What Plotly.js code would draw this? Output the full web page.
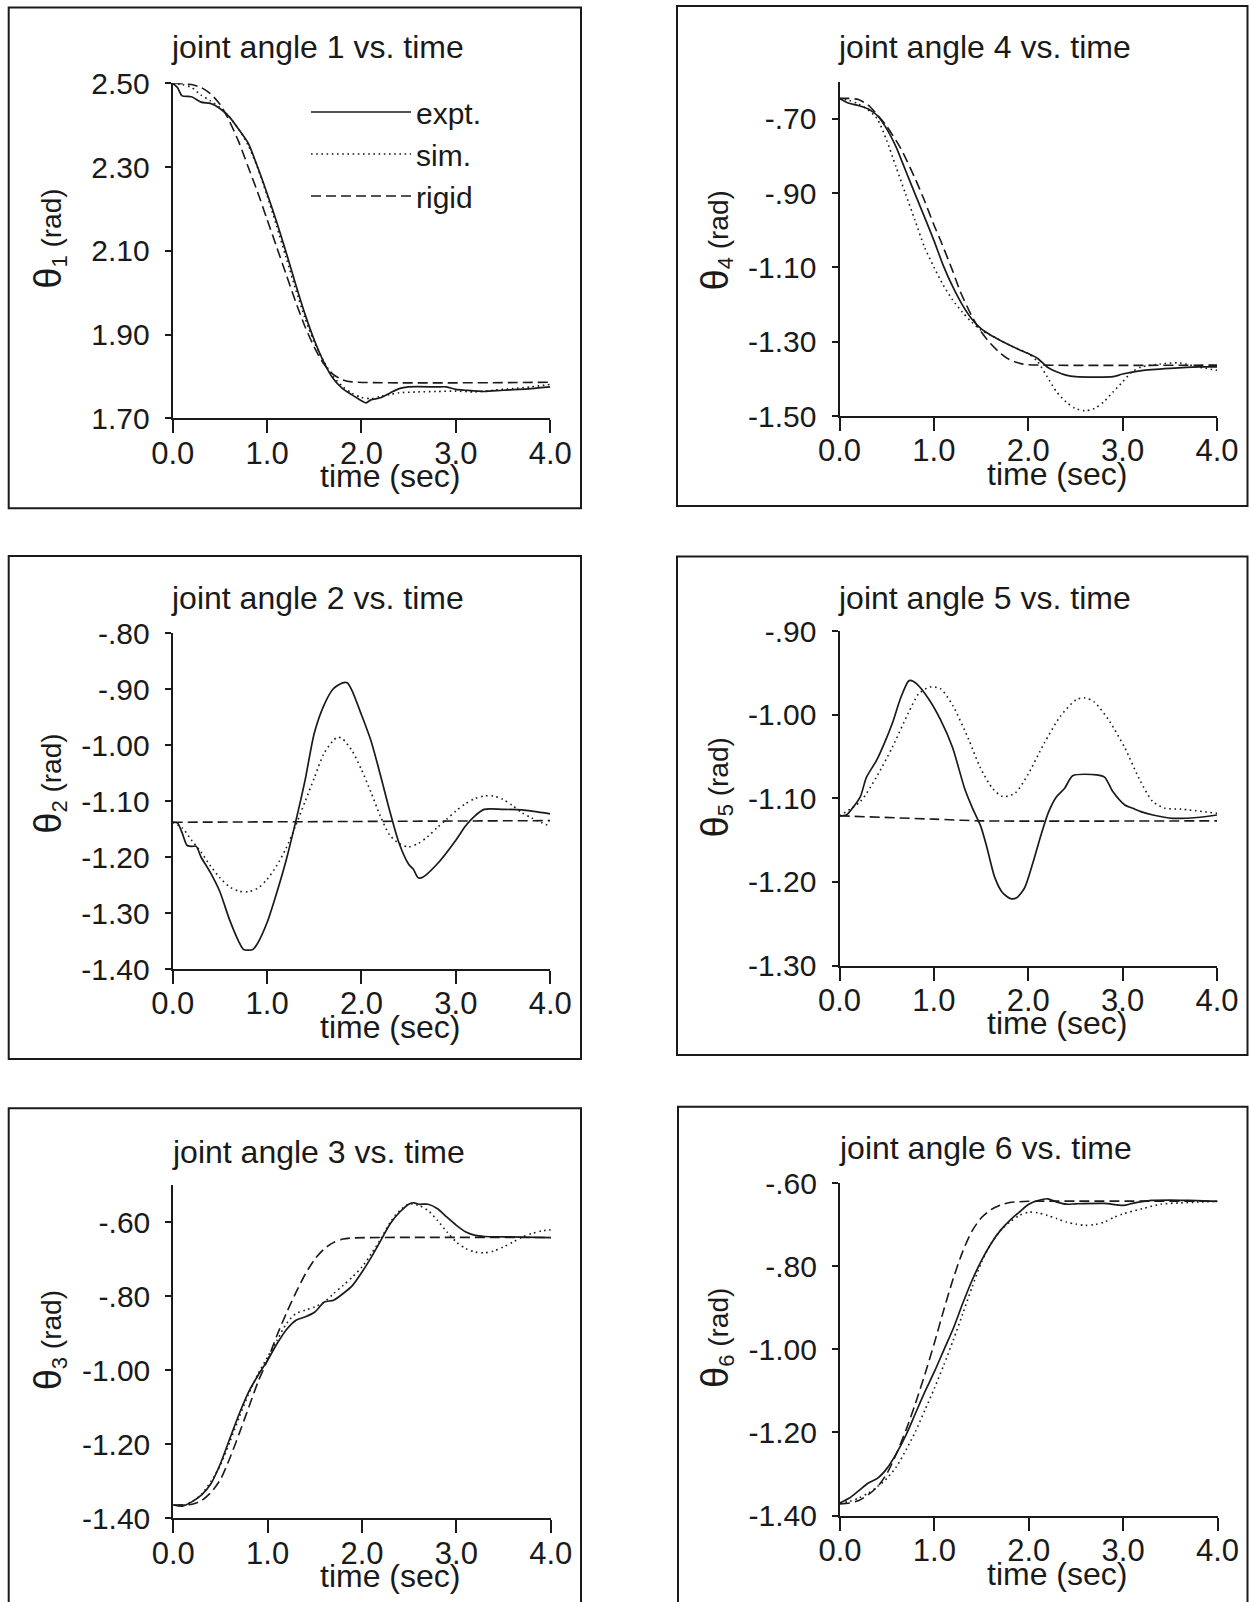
<!DOCTYPE html>
<html>
<head>
<meta charset="utf-8">
<script src="https://cdn.plot.ly/plotly-3.0.1.min.js"></script>
<style>
  html, body { margin: 0; padding: 0; background: #fff; }
  #chart { width: 1249px; height: 1602px; }
</style>
</head>
<body>
<div id="chart"></div>
<script>
// ---------------- DATA ----------------
const xTickVals = [0, 1, 2, 3, 4];
const xTickText = ["0.0", "1.0", "2.0", "3.0", "4.0"];
const seriesNames = ["expt.", "sim.", "rigid"];
const panelTitles = ["joint angle 1 vs. time", "joint angle 2 vs. time", "joint angle 3 vs. time",
                     "joint angle 4 vs. time", "joint angle 5 vs. time", "joint angle 6 vs. time"];
const xTitle = "time (sec)";

// joint 1
const y1TickVals = [2.50, 2.30, 2.10, 1.90, 1.70];
const y1TickText = ["2.50", "2.30", "2.10", "1.90", "1.70"];
const t1e = [0,0.05,0.1,0.2,0.3,0.4,0.5,0.6,0.7,0.8,0.9,1.0,1.1,1.2,1.3,1.4,1.5,1.6,1.7,1.8,1.9,2.0,2.05,2.1,2.2,2.3,2.4,2.5,2.8,2.9,3.0,3.1,3.3,3.5,3.8,4.0];
const th1e = [2.50,2.49,2.47,2.468,2.455,2.452,2.44,2.42,2.39,2.357,2.30,2.237,2.17,2.098,2.022,1.95,1.887,1.835,1.795,1.771,1.756,1.742,1.737,1.744,1.749,1.76,1.771,1.775,1.775,1.775,1.769,1.767,1.764,1.767,1.771,1.775];
const t1s = [0,0.1,0.2,0.3,0.4,0.5,0.6,0.7,0.8,0.9,1.0,1.1,1.2,1.3,1.4,1.5,1.6,1.7,1.8,1.9,2.0,2.1,2.2,2.3,2.4,2.6,2.8,3.0,3.2,3.4,3.6,3.8,4.0];
const th1s = [2.50,2.497,2.49,2.472,2.458,2.442,2.42,2.39,2.352,2.298,2.232,2.16,2.085,2.01,1.94,1.882,1.836,1.80,1.776,1.76,1.75,1.747,1.752,1.757,1.761,1.763,1.764,1.765,1.763,1.767,1.771,1.775,1.781];
const t1r = [0,0.2,0.3,0.4,0.5,0.6,0.7,0.8,0.9,1.0,1.1,1.2,1.3,1.4,1.5,1.6,1.7,1.8,1.9,4.0];
const th1r = [2.50,2.497,2.49,2.475,2.45,2.41,2.36,2.30,2.24,2.175,2.11,2.045,1.98,1.92,1.87,1.83,1.805,1.792,1.787,1.786];

// joint 2
const y2TickVals = [-0.80, -0.90, -1.00, -1.10, -1.20, -1.30, -1.40];
const y2TickText = ["-.80", "-.90", "-1.00", "-1.10", "-1.20", "-1.30", "-1.40"];
const t2e = [0,0.05,0.1,0.15,0.2,0.25,0.3,0.4,0.5,0.6,0.7,0.75,0.85,0.9,1.0,1.1,1.2,1.3,1.4,1.5,1.6,1.7,1.8,1.85,1.9,2.0,2.1,2.2,2.3,2.4,2.5,2.55,2.6,2.65,2.8,3.0,3.1,3.2,3.3,3.5,3.7,4.0];
const th2e = [-1.138,-1.139,-1.157,-1.179,-1.181,-1.181,-1.20,-1.228,-1.262,-1.311,-1.351,-1.365,-1.365,-1.354,-1.317,-1.265,-1.207,-1.139,-1.065,-0.979,-0.93,-0.90,-0.889,-0.889,-0.903,-0.946,-0.992,-1.053,-1.118,-1.176,-1.213,-1.222,-1.237,-1.236,-1.213,-1.17,-1.145,-1.127,-1.115,-1.115,-1.116,-1.123];
const t2s = [0,0.1,0.2,0.3,0.4,0.5,0.6,0.7,0.8,0.9,1.0,1.1,1.2,1.3,1.4,1.5,1.6,1.7,1.75,1.8,1.9,2.0,2.1,2.2,2.3,2.4,2.5,2.6,2.7,2.8,2.9,3.0,3.1,3.2,3.3,3.4,3.5,3.6,3.7,3.8,3.9,4.0];
const th2s = [-1.138,-1.148,-1.17,-1.191,-1.216,-1.237,-1.253,-1.261,-1.262,-1.256,-1.24,-1.216,-1.185,-1.145,-1.102,-1.059,-1.016,-0.992,-0.986,-0.989,-1.01,-1.044,-1.084,-1.127,-1.161,-1.176,-1.182,-1.176,-1.164,-1.148,-1.133,-1.118,-1.105,-1.096,-1.091,-1.091,-1.097,-1.108,-1.121,-1.13,-1.138,-1.145];
const t2r = [0, 4.0];
const th2r = [-1.138, -1.135];

// joint 3
const y3TickVals = [-0.60, -0.80, -1.00, -1.20, -1.40];
const y3TickText = ["-.60", "-.80", "-1.00", "-1.20", "-1.40"];
const t3e = [0,0.1,0.2,0.3,0.4,0.5,0.6,0.7,0.8,0.9,1.0,1.1,1.2,1.3,1.4,1.5,1.6,1.7,1.8,1.9,2.0,2.1,2.2,2.3,2.4,2.5,2.55,2.6,2.7,2.8,2.9,3.0,3.1,3.2,3.3,3.5,4.0];
const th3e = [-1.364,-1.367,-1.355,-1.337,-1.306,-1.252,-1.184,-1.117,-1.058,-1.013,-0.973,-0.928,-0.89,-0.865,-0.856,-0.843,-0.816,-0.811,-0.793,-0.771,-0.735,-0.694,-0.649,-0.604,-0.573,-0.551,-0.548,-0.552,-0.552,-0.564,-0.587,-0.609,-0.627,-0.636,-0.639,-0.64,-0.642];
const t3s = [0,0.1,0.2,0.3,0.4,0.5,0.6,0.7,0.8,0.9,1.0,1.1,1.2,1.3,1.4,1.5,1.6,1.7,1.8,1.9,2.0,2.1,2.2,2.3,2.4,2.5,2.6,2.7,2.8,2.9,3.0,3.1,3.2,3.3,3.4,3.5,3.6,3.7,3.8,3.9,4.0];
const th3s = [-1.364,-1.365,-1.355,-1.335,-1.30,-1.256,-1.193,-1.126,-1.063,-1.009,-0.964,-0.919,-0.874,-0.847,-0.838,-0.829,-0.816,-0.793,-0.771,-0.748,-0.721,-0.685,-0.645,-0.60,-0.569,-0.551,-0.555,-0.569,-0.596,-0.627,-0.654,-0.672,-0.681,-0.683,-0.678,-0.667,-0.654,-0.64,-0.631,-0.624,-0.621];
const t3r = [0,0.2,0.3,0.4,0.5,0.6,0.7,0.8,0.9,1.0,1.1,1.2,1.3,1.4,1.5,1.6,1.7,1.8,1.9,4.0];
const th3r = [-1.364,-1.362,-1.352,-1.33,-1.295,-1.237,-1.17,-1.10,-1.03,-0.972,-0.905,-0.845,-0.79,-0.74,-0.70,-0.672,-0.655,-0.646,-0.643,-0.642];

// joint 4
const y4TickVals = [-0.70, -0.90, -1.10, -1.30, -1.50];
const y4TickText = ["-.70", "-.90", "-1.10", "-1.30", "-1.50"];
const t4e = [0,0.1,0.2,0.3,0.4,0.5,0.6,0.7,0.8,0.9,1.0,1.1,1.2,1.3,1.4,1.5,1.6,1.7,1.8,1.9,2.0,2.1,2.2,2.3,2.4,2.5,2.9,3.0,3.2,3.5,3.8,4.0];
const th4e = [-0.645,-0.658,-0.664,-0.673,-0.691,-0.727,-0.776,-0.839,-0.902,-0.964,-1.027,-1.095,-1.152,-1.20,-1.238,-1.265,-1.282,-1.296,-1.309,-1.321,-1.332,-1.345,-1.368,-1.381,-1.39,-1.394,-1.394,-1.387,-1.378,-1.372,-1.368,-1.368];
const t4s = [0,0.1,0.2,0.3,0.4,0.5,0.6,0.7,0.8,0.9,1.0,1.1,1.2,1.3,1.4,1.5,1.6,1.8,2.0,2.1,2.2,2.3,2.4,2.5,2.6,2.7,2.8,2.9,3.0,3.1,3.2,3.4,3.6,3.8,4.0];
const th4s = [-0.645,-0.65,-0.66,-0.675,-0.70,-0.758,-0.83,-0.902,-0.973,-1.045,-1.099,-1.148,-1.188,-1.22,-1.247,-1.269,-1.282,-1.309,-1.332,-1.354,-1.394,-1.435,-1.462,-1.48,-1.486,-1.48,-1.462,-1.435,-1.408,-1.381,-1.368,-1.36,-1.357,-1.368,-1.377];
const t4r = [0,0.1,0.2,0.3,0.39,0.5,0.65,0.8,0.9,1.0,1.07,1.2,1.28,1.4,1.49,1.6,1.71,1.8,1.92,2.0,4.0];
const th4r = [-0.645,-0.645,-0.648,-0.662,-0.686,-0.72,-0.78,-0.86,-0.92,-0.985,-1.027,-1.11,-1.165,-1.23,-1.269,-1.305,-1.332,-1.348,-1.359,-1.362,-1.363];

// joint 5
const y5TickVals = [-0.90, -1.00, -1.10, -1.20, -1.30];
const y5TickText = ["-.90", "-1.00", "-1.10", "-1.20", "-1.30"];
const t5e = [0,0.072,0.136,0.221,0.285,0.391,0.476,0.561,0.645,0.73,0.752,0.815,0.943,1.07,1.197,1.325,1.41,1.495,1.558,1.643,1.728,1.813,1.877,1.962,2.047,2.132,2.217,2.301,2.386,2.471,2.726,2.811,2.896,3.023,3.108,3.193,3.321,3.533,3.788,4.0];
const th5e = [-1.121,-1.120,-1.112,-1.098,-1.075,-1.055,-1.034,-1.010,-0.981,-0.96,-0.959,-0.963,-0.981,-1.006,-1.039,-1.088,-1.112,-1.133,-1.157,-1.194,-1.213,-1.22,-1.219,-1.207,-1.178,-1.145,-1.116,-1.098,-1.088,-1.073,-1.072,-1.075,-1.092,-1.108,-1.112,-1.116,-1.12,-1.124,-1.123,-1.12];
const t5s = [0,0.22,0.39,0.56,0.73,0.84,0.96,1.07,1.2,1.37,1.49,1.62,1.73,1.86,2.0,2.17,2.34,2.51,2.6,2.7,2.85,3.02,3.19,3.32,3.45,3.62,4.0];
const th5s = [-1.121,-1.104,-1.075,-1.039,-0.998,-0.975,-0.967,-0.969,-0.989,-1.03,-1.063,-1.088,-1.098,-1.094,-1.071,-1.034,-1.002,-0.982,-0.98,-0.985,-1.006,-1.039,-1.08,-1.104,-1.112,-1.113,-1.118];
const t5r = [0, 1.0, 1.5, 4.0];
const th5r = [-1.121, -1.125, -1.127, -1.127];

// joint 6
const y6TickVals = [-0.60, -0.80, -1.00, -1.20, -1.40];
const y6TickText = ["-.60", "-.80", "-1.00", "-1.20", "-1.40"];
const t6e = [0,0.1,0.2,0.3,0.4,0.5,0.6,0.7,0.8,0.9,1.0,1.1,1.2,1.3,1.4,1.5,1.6,1.7,1.8,1.9,2.0,2.1,2.2,2.3,2.4,2.5,2.8,3.0,3.1,3.3,3.5,3.7,4.0];
const th6e = [-1.37,-1.358,-1.34,-1.322,-1.31,-1.286,-1.25,-1.206,-1.154,-1.102,-1.054,-1.002,-0.95,-0.89,-0.834,-0.786,-0.746,-0.714,-0.69,-0.67,-0.651,-0.642,-0.638,-0.646,-0.651,-0.65,-0.649,-0.654,-0.649,-0.642,-0.641,-0.642,-0.644];
const t6s = [0,0.1,0.2,0.3,0.4,0.5,0.6,0.7,0.8,0.9,1.0,1.1,1.2,1.3,1.4,1.5,1.6,1.7,1.8,1.9,2.0,2.1,2.2,2.3,2.4,2.5,2.6,2.7,2.8,2.9,3.0,3.2,3.4,3.6,3.8,4.0];
const th6s = [-1.37,-1.366,-1.358,-1.346,-1.33,-1.31,-1.282,-1.242,-1.198,-1.146,-1.094,-1.038,-0.978,-0.915,-0.85,-0.79,-0.746,-0.714,-0.694,-0.678,-0.67,-0.672,-0.678,-0.686,-0.694,-0.699,-0.702,-0.70,-0.694,-0.683,-0.674,-0.662,-0.651,-0.648,-0.646,-0.644];
const t6r = [0,0.1,0.2,0.3,0.4,0.5,0.6,0.7,0.8,0.9,1.0,1.1,1.2,1.3,1.4,1.5,1.6,1.7,1.8,1.9,2.0,4.0];
const th6r = [-1.372,-1.37,-1.364,-1.35,-1.33,-1.298,-1.25,-1.194,-1.13,-1.06,-0.985,-0.905,-0.83,-0.765,-0.715,-0.683,-0.664,-0.653,-0.647,-0.645,-0.644,-0.644];

// ---------------- LAYOUT HELPERS ----------------
const W = 1249, H = 1602;
const FONT = "Liberation Sans, Arial, Helvetica, sans-serif";
const INK = "#1a1a1a";
const px = v => v / W;
const py = v => 1 - v / H;

const panels = [
  {id: 1, ax: "",  x0: 172.7, x1: 550.2, yt: 83.3,  yb: 418.3, range: [1.70, 2.50], tv: y1TickVals, tt: y1TickText,
   box: [8.7, 7.5, 581, 508.3], ty: 46.7, ytc: 239,
   data: [[t1e, th1e], [t1s, th1s], [t1r, th1r]]},
  {id: 2, ax: "2", x0: 172.7, x1: 550.2, yt: 633,   yb: 969,   range: [-1.40, -0.80], tv: y2TickVals, tt: y2TickText,
   box: [8.7, 556, 581, 1059], ty: 597.5, ytc: 784,
   data: [[t2e, th2e], [t2s, th2s], [t2r, th2r]]},
  {id: 3, ax: "3", x0: 173.3, x1: 550.8, yt: 1185,  yb: 1518.3, range: [-1.40, -0.50], tv: y3TickVals, tt: y3TickText,
   box: [8.7, 1108.3, 581, 1620], ty: 1151.7, ytc: 1340,
   data: [[t3e, th3e], [t3s, th3s], [t3r, th3r]]},
  {id: 4, ax: "4", x0: 839.5, x1: 1217, yt: 81.7,  yb: 416,   range: [-1.50, -0.60], tv: y4TickVals, tt: y4TickText,
   box: [677, 6, 1247.5, 506], ty: 46.7, ytc: 241,
   data: [[t4e, th4e], [t4s, th4s], [t4r, th4r]]},
  {id: 5, ax: "5", x0: 839.5, x1: 1217, yt: 631,   yb: 965.5, range: [-1.30, -0.90], tv: y5TickVals, tt: y5TickText,
   box: [677, 556.6, 1247.5, 1055], ty: 597.7, ytc: 788,
   data: [[t5e, th5e], [t5s, th5s], [t5r, th5r]]},
  {id: 6, ax: "6", x0: 840,   x1: 1217.5, yt: 1183, yb: 1515.5, range: [-1.40, -0.60], tv: y6TickVals, tt: y6TickText,
   box: [678, 1106.7, 1247.5, 1620], ty: 1148.3, ytc: 1338,
   data: [[t6e, th6e], [t6s, th6s], [t6r, th6r]]}
];

const lineStyles = [
  {color: INK, width: 1.7, dash: "solid"},
  {color: INK, width: 1.6, dash: "1.6px,3.6px"},
  {color: INK, width: 1.6, dash: "10px,5px"}
];

const traces = [];
const layout = {
  width: W, height: H,
  margin: {l: 0, r: 0, t: 0, b: 0, pad: 0},
  paper_bgcolor: "#ffffff",
  plot_bgcolor: "rgba(0,0,0,0)",
  font: {family: FONT, color: INK, size: 30},
  showlegend: true,
  legend: {
    x: px(306), y: py(86), xanchor: "left", yanchor: "top",
    bgcolor: "rgba(0,0,0,0)", borderwidth: 0,
    font: {family: FONT, size: 30, color: INK},
    itemwidth: 100, tracegroupgap: 0, itemclick: false, itemdoubleclick: false
  },
  shapes: [],
  annotations: []
};

panels.forEach(p => {
  const xa = "xaxis" + p.ax, ya = "yaxis" + p.ax;
  const xref = "x" + p.ax, yref = "y" + p.ax;
  layout[xa] = {
    domain: [px(p.x0), px(p.x1)], anchor: yref, range: [0, 4], autorange: false,
    tickmode: "array", tickvals: xTickVals, ticktext: xTickText,
    showline: true, linecolor: INK, linewidth: 2,
    ticks: "outside", ticklen: 13, tickwidth: 2, tickcolor: INK,
    ticklabelstandoff: -7,
    showgrid: false, zeroline: false, fixedrange: true,
    tickfont: {family: FONT, size: 31, color: INK}
  };
  layout[ya] = {
    domain: [py(p.yb), py(p.yt)], anchor: xref, range: p.range, autorange: false,
    tickmode: "array", tickvals: p.tv, ticktext: p.tt,
    showline: true, linecolor: INK, linewidth: 2,
    ticks: "outside", ticklen: 6, tickwidth: 2, tickcolor: INK,
    ticklabelstandoff: 9,
    showgrid: false, zeroline: false, fixedrange: true,
    tickfont: {family: FONT, size: 30, color: INK}
  };
  p.data.forEach((d, i) => {
    traces.push({
      type: "scatter", mode: "lines", x: d[0], y: d[1],
      xaxis: xref, yaxis: yref,
      name: seriesNames[i], showlegend: p.id === 1,
      line: Object.assign({shape: "spline", smoothing: 0.7}, lineStyles[i]),
      hoverinfo: "skip"
    });
  });
  layout.shapes.push({
    type: "rect", xref: "paper", yref: "paper",
    x0: px(p.box[0]), x1: px(p.box[2]), y0: py(p.box[3]), y1: py(p.box[1]),
    line: {color: INK, width: 2}, fillcolor: "rgba(0,0,0,0)", layer: "below"
  });
  layout.annotations.push({
    xref: "paper", yref: "paper", x: px(p.x0 + 145), y: py(p.ty),
    xanchor: "center", yanchor: "middle", showarrow: false,
    text: panelTitles[p.id - 1], font: {family: FONT, size: 32, color: INK}
  });
  layout.annotations.push({
    xref: "paper", yref: "paper", x: px(p.x0 + 217), y: py(p.yb + 58),
    xanchor: "center", yanchor: "middle", showarrow: false,
    text: xTitle, font: {family: FONT, size: 32, color: INK}
  });
  layout.annotations.push({
    xref: "paper", yref: "paper", x: px(p.x0 - 124), y: py(p.ytc),
    xanchor: "center", yanchor: "middle", showarrow: false, textangle: -90,
    text: '<span style="font-size:38px">θ</span><sub><span style="font-size:22px">' + p.id +
          '</span></sub><span style="font-size:28px"> (rad)</span>',
    font: {family: FONT, size: 28, color: INK}
  });
});

Plotly.newPlot("chart", traces, layout, {staticPlot: true, displayModeBar: false});
</script>
</body>
</html>
